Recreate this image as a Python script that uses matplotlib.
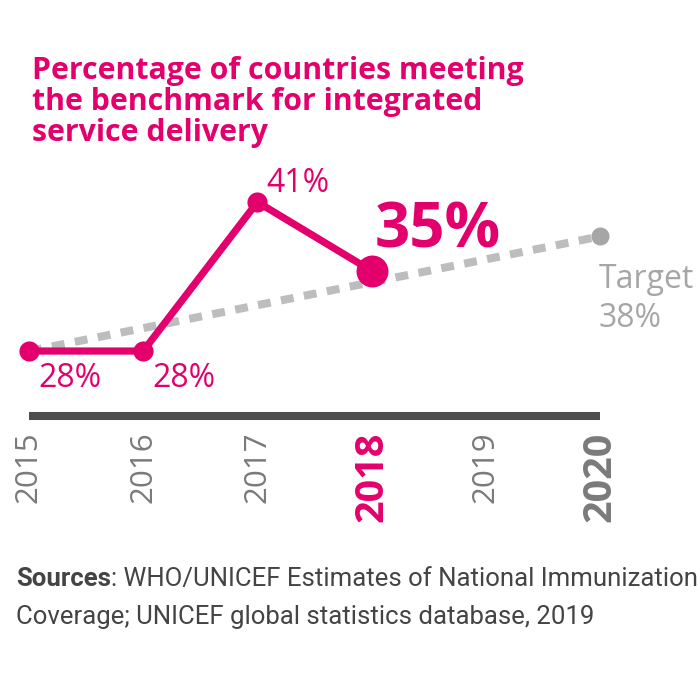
import matplotlib
matplotlib.use("Agg")
import matplotlib.pyplot as plt

# ---- data ----
years = [2015, 2016, 2017, 2018]
values = [28, 28, 41, 35]
value_labels = ["28%", "28%", "41%", "35%"]
target_years = [2015, 2020]
target_values = [28, 38]
tick_years = [2015, 2016, 2017, 2018, 2019, 2020]
tick_labels = ["2015", "2016", "2017", "2018", "2019", "2020"]
title = "Percentage of countries meeting\nthe benchmark for integrated\nservice delivery"
source_bold = "Sources"
source_line1 = ": WHO/UNICEF Estimates of National Immunization"
source_line2 = "Coverage; UNICEF global statistics database, 2019"

MAG = "#E4006C"
GRAY_T = "#A6A6A6"
GRAY_D = "#BDBDBD"
GRAY_TICK = "#7A7A7A"
BAR = "#4D4D4D"
FONT = "Open Sans"
SRC_FONT = "Roboto"

plt.rcParams['font.family'] = [FONT, 'DejaVu Sans']

fig = plt.figure(figsize=(7, 7), dpi=100)
ax = fig.add_axes([29/700, (700-416)/700, (600-29)/700, (416-160)/700])
ax.set_xlim(2015, 2020)
ax.set_ylim(22.33, 44.67)
for s in ["top", "left", "right"]:
    ax.spines[s].set_visible(False)
ax.spines["bottom"].set_linewidth(5.8)
ax.spines["bottom"].set_color(BAR)
ax.spines["bottom"].set_capstyle("butt")
ax.set_yticks([])
ax.set_xticks(tick_years)
ax.set_xticklabels(tick_labels, rotation=90, va="top", ha="center")
ax.tick_params(axis="x", length=0, pad=11)
for lbl in ax.get_xticklabels():
    t = lbl.get_text()
    if t == "2018":
        lbl.set_color(MAG); lbl.set_fontweight("bold"); lbl.set_fontsize(28.5)
    elif t == "2020":
        lbl.set_color(GRAY_TICK); lbl.set_fontweight("bold"); lbl.set_fontsize(28.5)
    else:
        lbl.set_color(GRAY_TICK); lbl.set_fontsize(22.5)

# target dashed line
ax.plot(target_years, target_values, color=GRAY_D, lw=5.8, ls=(0, (1.6, 1.3)),
        solid_capstyle="butt", dash_capstyle="butt", clip_on=False, zorder=2)
ax.plot(target_years[-1:], target_values[-1:], "o", color=GRAY_T, ms=13, mec="none",
        clip_on=False, zorder=3)

# data line
ax.plot(years, values, color=MAG, lw=5.2, clip_on=False, zorder=4,
        solid_joinstyle="miter")
ax.plot(years[:-1], values[:-1], "o", color=MAG, ms=14.5, mec="none", clip_on=False, zorder=5)
ax.plot(years[-1:], values[-1:], "o", color=MAG, ms=23, mec="none", clip_on=False, zorder=5)

# value labels
for i, (x, y, lab) in enumerate(zip(years, values, value_labels)):
    if i == 3:
        ax.annotate(lab, (x, y), xytext=(2, 6), textcoords="offset points",
                    color=MAG, fontsize=44.5, fontweight="bold", ha="left", va="bottom",
                    annotation_clip=False)
    elif i == 2:
        ax.annotate(lab, (x, y), xytext=(6.5, 13.5), textcoords="offset points",
                    color=MAG, fontsize=23, ha="left", va="center",
                    annotation_clip=False)
    else:
        ax.annotate(lab, (x, y), xytext=(6.5, -8), textcoords="offset points",
                    color=MAG, fontsize=23, ha="left", va="top",
                    annotation_clip=False)

ax.annotate("Target\n%d%%" % target_values[-1], (target_years[-1], target_values[-1]),
            xytext=(-1, -19), textcoords="offset points", color=GRAY_T, fontsize=23,
            ha="left", va="top", linespacing=1.25, annotation_clip=False)

# title
fig.text(32/700, 1 - 56/700, title, color=MAG, fontsize=21.8, fontweight="bold",
         ha="left", va="top", linespacing=1.05)

# sources
t1 = fig.text(16/700, 1 - 586/700, source_bold, color="#444444", fontsize=18.5,
              fontweight="bold", ha="left", va="baseline", family=[SRC_FONT, 'DejaVu Sans'])
ax.annotate(source_line1, xy=(1, 0), xycoords=t1, xytext=(0, 0), textcoords="offset points",
            color="#444444", fontsize=18.5, ha="left", va="bottom",
            family=[SRC_FONT, 'DejaVu Sans'], annotation_clip=False)
fig.text(16/700, 1 - 624/700, source_line2, color="#444444", fontsize=18.5,
         ha="left", va="baseline", family=[SRC_FONT, 'DejaVu Sans'])

fig.savefig("out.png", dpi=100)
